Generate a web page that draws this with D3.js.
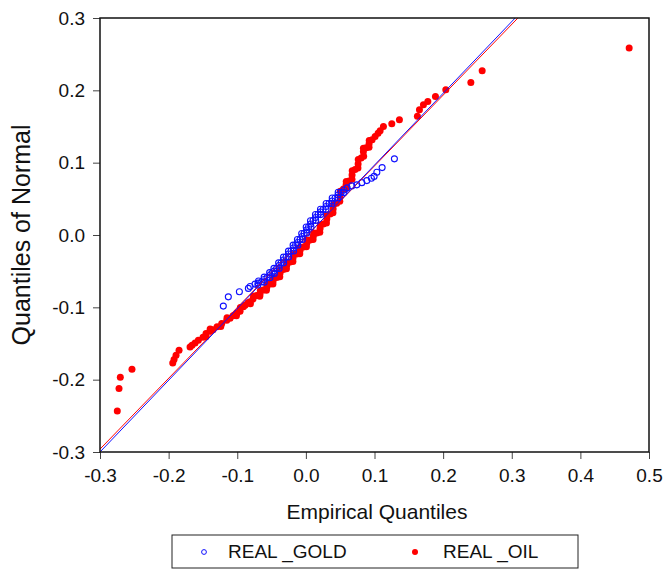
<!DOCTYPE html>
<html>
<head>
<meta charset="utf-8">
<script src="https://cdn.jsdelivr.net/npm/d3@7"></script>
<style>
  body { margin: 0; background: #fff; }
  text { font-family: "Liberation Sans", Arial, sans-serif; fill: #111; }
</style>
</head>
<body>
<svg id="qq-plot"></svg>
<script>
// ticks
const xTicks = [-0.3, -0.2, -0.1, 0.0, 0.1, 0.2, 0.3, 0.4, 0.5];
const yTicks = [-0.3, -0.2, -0.1, 0.0, 0.1, 0.2, 0.3];

// series names
const seriesNames = ['REAL _GOLD', 'REAL _OIL'];

// REAL_GOLD empirical (x) vs normal quantiles (y)
const goldX = [-0.1203, -0.1130, -0.0969, -0.0838, -0.0813, -0.0741, -0.0697, -0.0643, -0.0609, -0.0566,
  -0.0522, -0.0493, -0.0464, -0.0427, -0.0391, -0.0362, -0.0325, -0.0289, -0.0252, -0.0216,
  -0.0182, -0.0150, -0.0121, -0.0085, -0.0055, -0.0026, 0.0010, 0.0039, 0.0069, 0.0105,
  0.0141, 0.0178, 0.0214, 0.0251, 0.0294, 0.0338, 0.0382, 0.0426, 0.0469, 0.0513,
  0.0557, 0.0601, 0.0669, 0.0742, 0.0815, 0.0888, 0.0955, 0.0994, 0.1034, 0.1111, 0.1290];
const goldY = [-0.0983, -0.0855, -0.0785, -0.0738, -0.0713, -0.0679, -0.0665, -0.0647, -0.0616, -0.0589,
  -0.0554, -0.0526, -0.0499, -0.0464, -0.0422, -0.0388, -0.0346, -0.0305, -0.0263, -0.0222,
  -0.0180, -0.0139, -0.0104, -0.0062, -0.0021, 0.0021, 0.0069, 0.0111, 0.0152, 0.0201,
  0.0242, 0.0284, 0.0319, 0.0353, 0.0395, 0.0436, 0.0471, 0.0512, 0.0554, 0.0589,
  0.0623, 0.0651, 0.0679, 0.0693, 0.0724, 0.0752, 0.0785, 0.0810, 0.0868, 0.0932, 0.1053];
// more gold points
const goldBandX = [-0.0699, -0.0690, -0.0606, -0.0608, -0.0524, -0.0528, -0.0459, -0.0466, -0.0389, -0.0397,
  -0.0324, -0.0327, -0.0251, -0.0254, -0.0179, -0.0186, -0.0116, -0.0123, -0.0050, -0.0061,
  0.0012, 0.0005, 0.0074, 0.0067, 0.0143, 0.0140, 0.0216, 0.0213, 0.0293, 0.0296,
  0.0380, 0.0384, 0.0468, 0.0471, 0.0555];
const goldBandY = [-0.0692, -0.0636, -0.0652, -0.0583, -0.0592, -0.0520, -0.0533, -0.0462, -0.0463, -0.0385,
  -0.0387, -0.0306, -0.0304, -0.0223, -0.0221, -0.0140, -0.0142, -0.0063, -0.0062, 0.0020,
  0.0025, 0.0110, 0.0112, 0.0197, 0.0202, 0.0283, 0.0282, 0.0356, 0.0354, 0.0436,
  0.0434, 0.0512, 0.0513, 0.0592, 0.0586];

// REAL_OIL
const oilX = [-0.2748, -0.2723, -0.2704, -0.2534, -0.1940, -0.1921, -0.1892, -0.1848, -0.1688, -0.1659,
  -0.1615, -0.1567, -0.1499, -0.1455, -0.1397, -0.1353, -0.1294, -0.1226, -0.1153, -0.1105,
  -0.1061, -0.1003, -0.0959, -0.0911, -0.0886, -0.0843, -0.0813, -0.0770, -0.0716, -0.0668,
  -0.0620, -0.0570, -0.0522, -0.0478, -0.0424, -0.0376, -0.0328, -0.0278, -0.0230, -0.0187,
  -0.0133, -0.0085, -0.0036, 0.0013, 0.0061, 0.0109, 0.0159, 0.0207, 0.0255, 0.0305,
  0.0353, 0.0397, 0.0449, 0.0499, 0.0547, 0.0586, 0.0630, 0.0673, 0.0717, 0.0761,
  0.0805, 0.0838, 0.0878, 0.0921, 0.0965, 0.1009, 0.1052, 0.1082, 0.1130, 0.1252,
  0.1363, 0.1625, 0.1655, 0.1713, 0.1777, 0.1888, 0.2039, 0.2404, 0.2569, 0.4711];
const oilY = [-0.2434, -0.2123, -0.1967, -0.1856, -0.1769, -0.1722, -0.1662, -0.1593, -0.1547, -0.1524,
  -0.1492, -0.1454, -0.1413, -0.1361, -0.1330, -0.1309, -0.1267, -0.1223, -0.1177, -0.1150,
  -0.1115, -0.1080, -0.1053, -0.0993, -0.0970, -0.0935, -0.0924, -0.0886, -0.0838, -0.0817,
  -0.0762, -0.0727, -0.0679, -0.0637, -0.0589, -0.0526, -0.0478, -0.0416, -0.0374, -0.0319,
  -0.0263, -0.0215, -0.0166, -0.0115, -0.0069, -0.0014, 0.0028, 0.0090, 0.0152, 0.0222,
  0.0291, 0.0360, 0.0439, 0.0530, 0.0637, 0.0693, 0.0748, 0.0831, 0.0907, 0.0983,
  0.1066, 0.1150, 0.1205, 0.1260, 0.1316, 0.1361, 0.1406, 0.1440, 0.1500, 0.1537,
  0.1593, 0.1641, 0.1731, 0.1801, 0.1846, 0.1916, 0.2008, 0.2109, 0.2271, 0.2586];
// more oil points
const oilBandX = [-0.1457, -0.1395, -0.1240, -0.1149, -0.1012, -0.0955, -0.0808, -0.0763, -0.0672, -0.0664,
  -0.0575, -0.0566, -0.0480, -0.0471, -0.0380, -0.0372, -0.0283, -0.0274, -0.0189, -0.0180,
  -0.0089, -0.0081, 0.0008, 0.0017, 0.0105, 0.0114, 0.0203, 0.0211, 0.0300, 0.0309,
  0.0395, 0.0403, 0.0494, 0.0503, 0.0587, 0.0588, 0.0672, 0.0675, 0.0759, 0.0763,
  0.0842, 0.0838, 0.0920, 0.0923];
const oilBandY = [-0.1407, -0.1300, -0.1265, -0.1144, -0.1118, -0.1003, -0.0950, -0.0842, -0.0848, -0.0770,
  -0.0765, -0.0683, -0.0678, -0.0593, -0.0578, -0.0482, -0.0467, -0.0375, -0.0367, -0.0271,
  -0.0259, -0.0171, -0.0161, -0.0072, -0.0062, 0.0027, 0.0039, 0.0141, 0.0167, 0.0277,
  0.0306, 0.0420, 0.0465, 0.0604, 0.0645, 0.0741, 0.0770, 0.0889, 0.0925, 0.1045,
  0.1088, 0.1198, 0.1213, 0.1308];

// reference lines (endpoints)
const goldLine = [[-0.30, -0.300], [0.305, 0.300]];
const oilLine = [[-0.30, -0.296], [0.309, 0.300]];

const width = 664;
const height = 569;
const margin = { top: 18, right: 15, bottom: 117, left: 100 };
const chartWidth = width - margin.left - margin.right;
const chartHeight = height - margin.top - margin.bottom;

const blue = '#1010ff';
const red = '#ff0000';

const root = d3.select('#qq-plot').attr('width', width).attr('height', height);
const svg = root.append('g').attr('transform', `translate(${margin.left}, ${margin.top})`);

const xScale = d3.scaleLinear().domain([-0.3, 0.5]).range([0, chartWidth]);
const yScale = d3.scaleLinear().domain([-0.3, 0.3]).range([chartHeight, 0]);

const fmt = (d) => d.toFixed(1);

// axes
const xAxis = svg.append('g')
  .attr('transform', `translate(0, ${chartHeight})`)
  .call(d3.axisBottom(xScale).tickValues(xTicks).tickFormat(fmt).tickSize(7).tickSizeOuter(0).tickPadding(10));
const yAxis = svg.append('g')
  .call(d3.axisLeft(yScale).tickValues(yTicks).tickFormat(fmt).tickSize(7).tickSizeOuter(0).tickPadding(8));

[xAxis, yAxis].forEach((ax) => {
  ax.select('.domain').remove();
  ax.selectAll('.tick line').attr('stroke', '#444').attr('stroke-width', 1);
  ax.selectAll('.tick text').style('font-size', '19px').attr('fill', '#111');
});

// points
const toPoints = (xs, ys) => xs.map((x, i) => ({ x, y: ys[i] }));
const oilData = toPoints(oilX, oilY).concat(toPoints(oilBandX, oilBandY));
const goldData = toPoints(goldX, goldY).concat(toPoints(goldBandX, goldBandY));

svg.append('g')
  .selectAll('circle')
  .data(oilData)
  .enter()
  .append('circle')
  .attr('cx', (d) => xScale(d.x))
  .attr('cy', (d) => yScale(d.y))
  .attr('r', 3.5)
  .attr('fill', red);

svg.append('g')
  .selectAll('circle')
  .data(goldData)
  .enter()
  .append('circle')
  .attr('cx', (d) => xScale(d.x))
  .attr('cy', (d) => yScale(d.y))
  .attr('r', 3)
  .attr('fill', 'none')
  .attr('stroke', blue)
  .attr('stroke-width', 1.1);

// reference lines
const line = d3.line().x((d) => xScale(d[0])).y((d) => yScale(d[1]));
svg.append('path').datum(oilLine).attr('d', line).attr('fill', 'none').attr('stroke', red).attr('stroke-width', 1);
svg.append('path').datum(goldLine).attr('d', line).attr('fill', 'none').attr('stroke', blue).attr('stroke-width', 1);

// frame
svg.append('rect')
  .attr('width', chartWidth)
  .attr('height', chartHeight)
  .attr('fill', 'none')
  .attr('stroke', '#111')
  .attr('stroke-width', 1.5);

// axis labels
svg.append('text')
  .attr('x', 277)
  .attr('y', 501)
  .style('text-anchor', 'middle')
  .style('font-size', '21px')
  .text('Empirical Quantiles');

root.append('text')
  .attr('transform', 'translate(30, 235) rotate(-90)')
  .style('text-anchor', 'middle')
  .style('font-size', '25px')
  .text('Quantiles of Normal');

// legend
const legend = root.append('g');
legend.append('rect')
  .attr('x', 172)
  .attr('y', 535)
  .attr('width', 406)
  .attr('height', 33)
  .attr('fill', '#fff')
  .attr('stroke', '#222')
  .attr('stroke-width', 1);

const legendItems = [
  { name: seriesNames[0], cx: 204, tx: 228, hollow: true, color: blue },
  { name: seriesNames[1], cx: 415, tx: 443, hollow: false, color: red },
];

const item = legend.selectAll('.legend-item')
  .data(legendItems)
  .enter()
  .append('g')
  .attr('class', 'legend-item');

item.append('circle')
  .attr('cx', (d) => d.cx)
  .attr('cy', 552)
  .attr('r', (d) => (d.hollow ? 2.4 : 3))
  .attr('fill', (d) => (d.hollow ? 'none' : d.color))
  .attr('stroke', (d) => (d.hollow ? d.color : 'none'))
  .attr('stroke-width', 1);

item.append('text')
  .attr('x', (d) => d.tx)
  .attr('y', 558)
  .style('font-size', '19px')
  .text((d) => d.name);
</script>
</body>
</html>
